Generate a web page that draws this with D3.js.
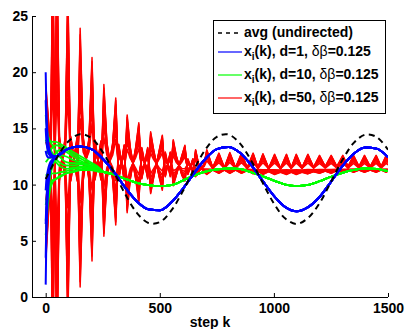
<!DOCTYPE html>
<html><head><meta charset="utf-8">
<script src="https://cdn.jsdelivr.net/npm/d3@7"></script>
<style>
html,body{margin:0;padding:0;background:#fff}
svg{display:block}
text{font-family:"Liberation Sans",Arial,Helvetica,sans-serif;font-weight:bold;white-space:pre}
</style>
</head><body>
<svg id="chart" width="407" height="329"></svg>
<script>
// ---- tick labels / text ----
const xTicks = [0, 500, 1000, 1500];
const yTicks = [0, 5, 10, 15, 20, 25];
const xLabel = "step k";
const legendD = ["1", "10", "50"];
const legendAvg = "avg (undirected)";

// ---- dashed average (undirected) ----
const avgK = [0,50,100,150,200,250,300,350,400,450,500,550,600,650,700,750,800,850,900,950,1000,1050,1100,1150,1200,1250,1300,1350,1400,1450,1500];
const avgVal = [10.5,12.42,13.86,14.49,14.14,12.89,11.06,9.10,7.47,6.59,6.66,7.68,9.38,11.36,13.13,14.25,14.46,13.69,12.15,10.2,8.32,6.98,6.5,7.04,8.35,10.24,12.18,13.71,14.44,14.24,13.1];

// ---- d=1 (blue): early agents, then common trajectory ----
const blueEarlyK = [0,3,7,12,18,26,36];
const blueAgents = [
  [20.0,16.8,14.8,13.6,13.0,12.7,12.55],
  [17.5,15.3,14.0,13.2,12.8,12.6,12.5],
  [15.0,13.9,13.2,12.8,12.6,12.5,12.45],
  [13.0,12.7,12.5,12.4,12.4,12.4,12.4],
  [9.5,10.4,11.0,11.5,11.9,12.15,12.35],
  [6.5,8.6,9.9,10.9,11.6,12.0,12.3],
  [3.5,6.8,8.8,10.3,11.3,11.9,12.3],
  [1.1,5.3,8.0,9.9,11.1,11.8,12.25]
];
const blueK = [50,100,150,200,250,300,350,400,450,500,550,600,650,700,750,800,850,900,950,1000,1050,1100,1150,1200,1250,1300,1350,1400,1450,1500];
const blueVal = [12.55,13.2,13.38,13.15,12.3,11.1,9.7,8.5,7.8,7.72,8.4,9.6,11.0,12.3,13.15,13.35,12.85,11.75,10.35,9.0,8.0,7.64,8.0,8.9,10.25,11.65,12.75,13.3,13.2,12.45];

// ---- d=10 (green): early agents, then common trajectory ----
const greenEarlyK = [0,8,18,30,45,65,90,120,155,195,240];
const greenAgents = [
  [16.2,14.6,13.9,13.5,13.0,12.4,12.0,11.9,11.9,11.7,11.3],
  [15.0,14.2,13.9,13.8,13.8,13.6,13.3,12.9,12.5,12.0,11.4],
  [14.0,13.5,13.2,12.8,12.3,11.9,11.7,11.7,11.8,11.6,11.25],
  [13.0,12.8,13.0,13.3,13.5,13.4,13.1,12.7,12.3,11.85,11.35],
  [12.0,12.2,12.4,12.4,12.0,11.6,11.4,11.5,11.6,11.5,11.2],
  [10.8,11.0,11.5,12.2,12.8,13.1,12.9,12.5,12.1,11.7,11.3],
  [9.5,10.2,10.8,11.0,11.0,11.1,11.2,11.4,11.5,11.45,11.2],
  [8.2,9.3,10.5,11.6,12.3,12.6,12.5,12.2,11.95,11.6,11.25],
  [6.8,8.6,9.9,10.4,10.5,10.7,11.0,11.2,11.35,11.35,11.15],
  [5.5,7.8,9.4,10.2,10.5,10.8,11.0,11.1,11.3,11.3,11.15]
];
const greenK = [250,300,350,400,450,500,550,600,650,700,750,800,850,900,950,1000,1050,1100,1150,1200,1250,1300,1350,1400,1450,1500];
const greenVal = [11.15,10.9,10.5,10.15,9.95,9.87,9.95,10.35,10.8,11.15,11.35,11.45,11.4,11.1,10.75,10.35,10.0,9.87,9.97,10.3,10.7,11.05,11.3,11.45,11.4,11.2];

// ---- d=50 (red): vertex steps, centre, two extreme agents, spread of the others ----
const redK = [0,22,31,40,49,60,86,97,110,138,151,164,190,203,216,242,255,268,294,307,320,344,357,370,395,408,421,447,460,473,498,511,524,546,559,572,597,610,623,645,657,669,694,706,
  732,759,783,807,832,858,883,909,930,952,977,1003,1029,1055,1076,1098,1123,1149,1174,1200,1225,1251,1276,1302,1325,1349,1373,1397,1422,1448,1470,1492,1500];
const redCenter = [11.0,12.0,12.4,12.3,12.4,12.3,12.3,12.4,12.3,12.3,12.4,12.3,12.25,12.25,12.2,12.15,12.15,12.1,12.05,12.05,12.0,11.95,11.85,11.9,11.9,11.95,11.9,11.9,11.95,11.85,11.85,11.95,11.8,11.8,11.95,11.7,11.7,11.9,11.6,11.6,11.9,11.5,11.5,11.6,
  11.4,11.5,11.4,11.5,11.4,11.5,11.4,11.5,11.4,11.5,11.4,11.5,11.4,11.5,11.4,11.5,11.4,11.5,11.4,11.5,11.4,11.5,11.4,11.5,11.4,11.5,11.4,11.5,11.4,11.5,11.4,11.5,11.45];
const redAgentA = [19,13.2,32,12.0,-6,10.3,14.3,27.5,10.3,14.3,0.9,10.3,14.2,21.3,10.4,13.9,5.4,10.4,13.75,17.7,10.4,13.55,7.5,10.4,13.4,15.5,10.5,13.3,9.2,10.6,13.1,14.4,10.7,12.9,9.9,10.8,12.6,13.5,10.9,12.3,10.7,11.1,11.8,13.1,
  11.5,12.8,11.5,12.85,11.5,12.8,11.5,12.8,11.5,12.75,11.45,12.7,11.45,12.7,11.5,12.7,11.5,12.7,11.55,12.6,11.6,12.6,11.6,12.6,11.6,12.6,11.6,12.6,11.6,12.6,11.6,12.6,12.3];
const redAgentB = [3,10.8,-7,12.6,31,14.3,10.3,-2.5,14.3,10.3,23.9,14.3,10.3,3.2,14.0,10.4,18.9,13.8,10.35,6.4,13.6,10.35,16.2,13.4,10.4,8.4,13.3,10.5,14.7,13.1,10.6,9.5,12.9,10.7,14.0,12.6,10.8,10.3,12.3,10.9,13.1,11.9,11.1,10.9,
  11.3,11.0,11.3,11.0,11.3,11.0,11.25,10.95,11.2,10.9,11.15,10.9,11.1,10.9,11.1,10.9,11.1,10.95,11.15,11.0,11.2,11.0,11.25,11.05,11.3,11.1,11.3,11.1,11.3,11.1,11.3,11.1,11.2];
const redSpreadA = [1, 0.96, 0.9, 0.83, 0.75, 0.64, 0.5, 0.35];
const redSpreadB = [1, 0.95, 0.89, 0.81, 0.72, 0.6, 0.46, 0.3];

// ---- layout ----
const W = 407, H = 329;
const plot = {left: 32, right: 388, top: 16, bottom: 297};
const x = d3.scaleLinear().domain([-60, 1500]).range([plot.left, plot.right]);
const y = d3.scaleLinear().domain([0, 25]).range([plot.bottom, plot.top]);

const svg = d3.select("#chart");
svg.append("rect").attr("width", W).attr("height", H).attr("fill", "#fff");
svg.append("defs").append("clipPath").attr("id", "clip")
  .append("rect").attr("x", plot.left).attr("y", plot.top)
  .attr("width", plot.right - plot.left).attr("height", plot.bottom - plot.top);

const g = svg.append("g").attr("clip-path", "url(#clip)");
const lineLin = d3.line().x(d => x(d[0])).y(d => y(d[1]));
const lineMono = d3.line().x(d => x(d[0])).y(d => y(d[1])).curve(d3.curveMonotoneX);
const lineSmooth = d3.line().x(d => x(d[0])).y(d => y(d[1])).curve(d3.curveCatmullRom.alpha(0.5));

// red agents
const redSeries = [];
redSpreadA.forEach(w => redSeries.push(redK.map((k, j) => [k, redCenter[j] + w * (redAgentA[j] - redCenter[j])])));
redSpreadB.forEach(w => redSeries.push(redK.map((k, j) => [k, redCenter[j] + w * (redAgentB[j] - redCenter[j])])));
g.selectAll("path.red").data(redSeries).enter().append("path").attr("class", "red")
  .attr("d", lineLin).attr("fill", "none").attr("stroke", "#ff0000")
  .attr("stroke-width", 1.5).attr("stroke-linejoin", "round");

// green agents
const greenSeries = greenAgents.map(a => greenEarlyK.map((k, j) => [k, a[j]]).concat(greenK.map((k, j) => [k, greenVal[j]])));
g.selectAll("path.green").data(greenSeries).enter().append("path").attr("class", "green")
  .attr("d", lineMono).attr("fill", "none").attr("stroke", "#00ff00").attr("stroke-width", 1.8);

// blue agents
const blueSeries = blueAgents.map(a => blueEarlyK.map((k, j) => [k, a[j]]).concat(blueK.map((k, j) => [k, blueVal[j]])));
g.selectAll("path.blue").data(blueSeries).enter().append("path").attr("class", "blue")
  .attr("d", lineMono).attr("fill", "none").attr("stroke", "#0000ff").attr("stroke-width", 2);

// dashed average
g.append("path").datum(avgK.map((k, j) => [k, avgVal[j]]))
  .attr("d", lineSmooth).attr("fill", "none").attr("stroke", "#000")
  .attr("stroke-width", 2).attr("stroke-dasharray", "6,4.5");

// ---- axes ----
const font = '"Liberation Sans",Arial,Helvetica,sans-serif';
const ax = svg.append("g").attr("transform", `translate(${plot.left},0)`)
  .call(d3.axisLeft(y).tickValues(yTicks).tickFormat(d3.format("d")).tickSizeInner(-4).tickSizeOuter(0).tickPadding(4));
const bx = svg.append("g").attr("transform", `translate(0,${plot.bottom})`)
  .call(d3.axisBottom(x).tickValues(xTicks).tickFormat(d3.format("d")).tickSizeInner(-4).tickSizeOuter(0).tickPadding(6));
[ax, bx].forEach(a => {
  a.attr("font-size", 14).attr("font-family", font).attr("font-weight", "bold");
  a.selectAll("text").attr("fill", "#000");
  a.selectAll("line,path").attr("stroke", "#000");
});
bx.select(".domain").attr("d", `M${plot.left},0.5H${plot.right}`);

svg.append("text").attr("x", (plot.left + plot.right) / 2).attr("y", 327)
  .attr("text-anchor", "middle").attr("font-size", 14).text(xLabel);

// ---- legend ----
const leg = svg.append("g");
leg.append("rect").attr("x", 213.5).attr("y", 20.5).attr("width", 172).attr("height", 93)
  .attr("fill", "#fff").attr("stroke", "#000").attr("stroke-width", 1);
const rows = [
  {ly: 33, ty: 37, color: "#000", dash: "4,4"},
  {ly: 52, ty: 56, color: "#0000ff", d: legendD[0]},
  {ly: 75, ty: 79, color: "#00ff00", d: legendD[1]},
  {ly: 98, ty: 102, color: "#ff0000", d: legendD[2]}
];
rows.forEach((r, i) => {
  leg.append("line").attr("x1", 218).attr("x2", 242).attr("y1", r.ly).attr("y2", r.ly)
    .attr("stroke", r.color).attr("stroke-width", i === 0 ? 1.5 : 1.2)
    .attr("stroke-dasharray", r.dash || null);
  const t = leg.append("text").attr("x", 244).attr("y", r.ty).attr("font-size", 14);
  if (i === 0) { t.text(legendAvg); return; }
  t.append("tspan").text("x");
  t.append("tspan").attr("dy", 4).attr("font-size", 10).text("i");
  t.append("tspan").attr("dy", -4).text(`(k), d=${r.d}, `);
  t.append("tspan").attr("font-weight", "normal").text("δβ");
  t.append("tspan").text("=0.125");
});
</script>
</body></html>
